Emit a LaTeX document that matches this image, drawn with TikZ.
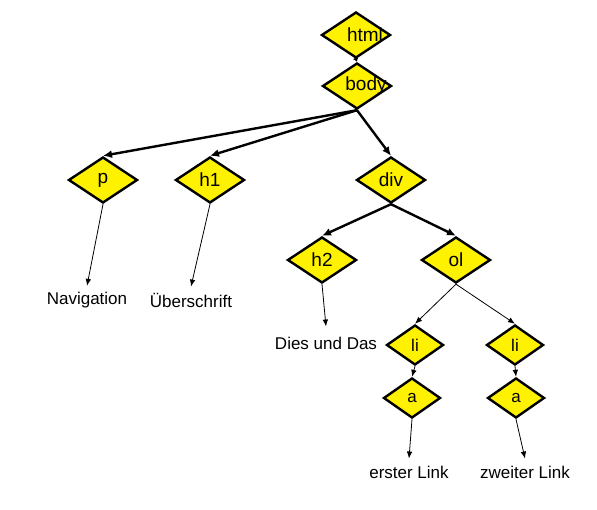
\documentclass[tikz,border=0pt]{standalone}
\usepackage{fontspec}
\setmainfont{Liberation Sans}
\usetikzlibrary{shapes.geometric,arrows.meta}
\begin{document}
\begin{tikzpicture}[x=1pt, y=-1pt,
  tag/.style={diamond, draw=black, line width=2.4pt, fill=yellow, minimum width=69pt, minimum height=46pt, inner sep=0pt, font=\fontsize{19}{22}\selectfont},
  smalltag/.style={tag, minimum width=57pt, minimum height=40pt, font=\fontsize{17}{20}\selectfont},
  word/.style={font=\fontsize{17}{20}\selectfont, inner sep=1pt},
  strong/.style={line width=2.4pt, -{Latex[length=9pt, width=8pt]}},
  weak/.style={line width=0.8pt, -{Latex[length=7pt, width=5.5pt]}}]
\useasboundingbox (0,0) rectangle (597,510);
% element nodes
\node[tag] (html) at (356,35) {\makebox[0pt]{\hspace*{18pt}html}};
\node[tag] (body) at (357,86) {\makebox[0pt]{\hspace*{18pt}body}};
\node[tag] (p) at (103,180) {p};
\node[tag] (h1) at (210,180) {h1};
\node[tag] (div) at (391,180) {div};
\node[tag] (h2) at (322,260) {h2};
\node[tag] (ol) at (456,260) {ol};
\node[smalltag] (li1) at (415,345) {li};
\node[smalltag] (li2) at (515,345) {li};
\node[smalltag] (a1) at (412,398) {a};
\node[smalltag] (a2) at (516,398) {a};
% text nodes
\node[word] (nav) at (87,300) {Navigation};
\node[word] (head) at (191,300) {Überschrift};
\node[word] (dies) at (326,343) {Dies und Das};
\node[word] (link1) at (409,472) {erster Link};
\node[word] (link2) at (525,472) {zweiter Link};
% tree edges
\draw[line width=2.4pt, -{Latex[length=4pt, width=6pt]}] (html.south) -- (body.north);
\draw[strong] (body.south) -- (p.north);
\draw[strong] (body.south) -- (h1.north);
\draw[strong] (body.south) -- (div.north);
\draw[strong] (div.south) -- (h2.north);
\draw[strong] (div.south) -- (ol.north);
\draw[weak] (ol.south) -- (li1.north);
\draw[weak] (ol.south) -- (li2.north);
\draw[weak] (li1.south) -- (a1.north);
\draw[weak] (li2.south) -- (a2.north);
\draw[weak] (p.south) -- ([yshift=5pt]nav.north);
\draw[weak] (h1.south) -- ([yshift=5pt]head.north);
\draw[weak] (h2.south) -- ([yshift=9pt]dies.north);
\draw[weak] (a1.south) -- ([yshift=6pt]link1.north);
\draw[weak] (a2.south) -- ([yshift=6pt]link2.north);
\end{tikzpicture}
\end{document}
